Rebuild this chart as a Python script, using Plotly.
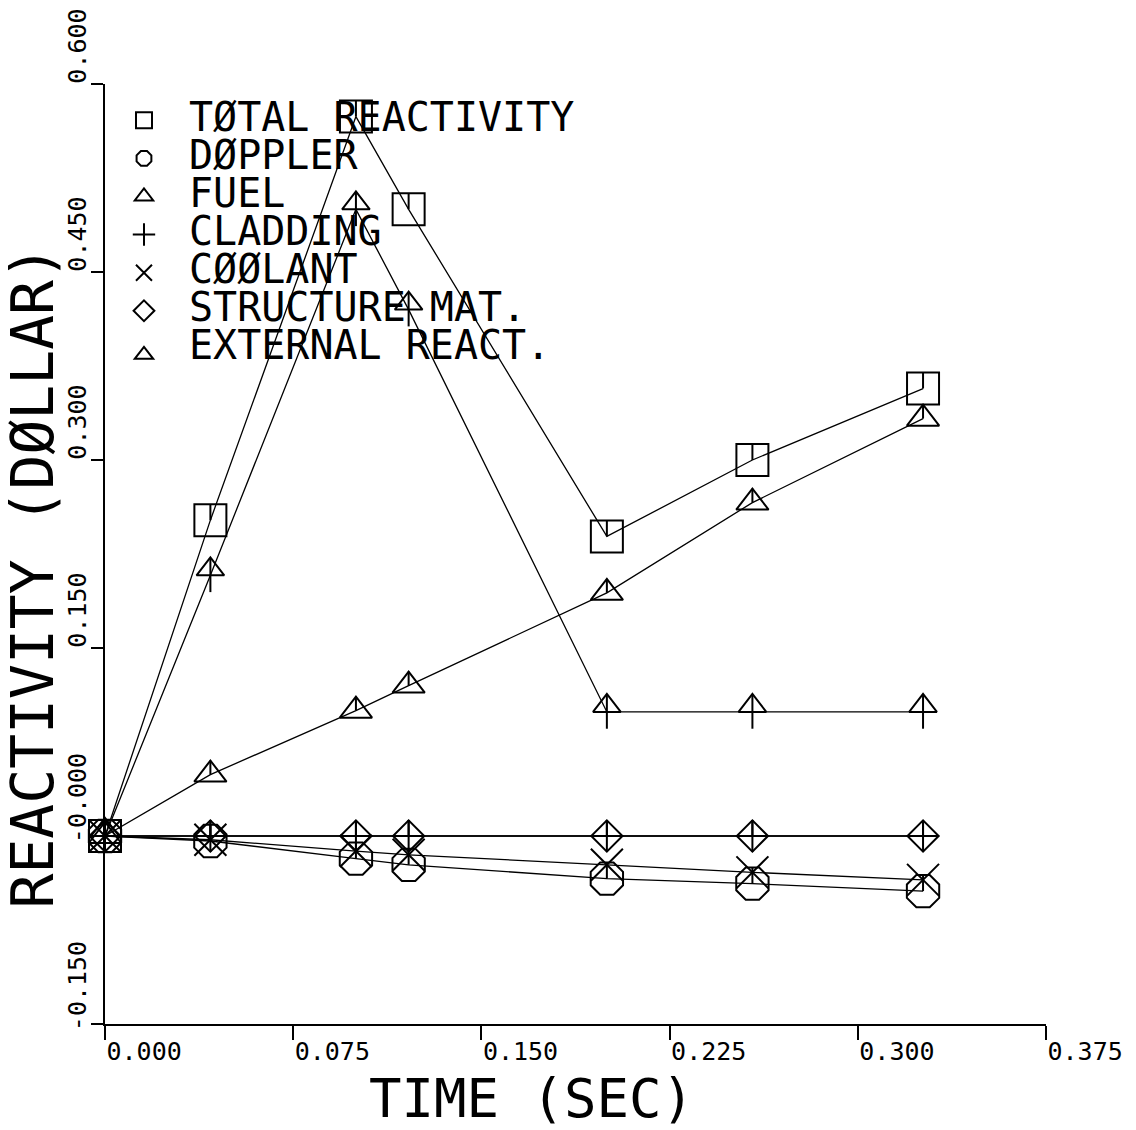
import plotly.graph_objects as go

# Reactivity contributions (dollars) versus time (seconds)
time_s = [0.0, 0.042, 0.100, 0.121, 0.200, 0.258, 0.326]
total_reactivity = [0.0, 0.252, 0.574, 0.500, 0.239, 0.300, 0.357]
doppler = [0.0, -0.004, -0.018, -0.023, -0.034, -0.038, -0.044]
fuel = [0.0, 0.049, 0.100, 0.120, 0.194, 0.266, 0.333]
cladding = [0.0, 0.0, 0.0, 0.0, 0.0, 0.0, 0.0]
coolant = [0.0, -0.003, -0.012, -0.015, -0.023, -0.029, -0.035]
structure_mat = [0.0, 0.0, 0.0, 0.0, 0.0, 0.0, 0.0]
external_react = [0.0, 0.208, 0.500, 0.420, 0.099, 0.099, 0.099]

series_names = ["TØTAL REACTIVITY", "DØPPLER", "FUEL", "CLADDING",
                "CØØLANT", "STRUCTURE MAT.", "EXTERNAL REACT."]

x_tickvals = [0.0, 0.075, 0.150, 0.225, 0.300, 0.375]
x_ticktext = ["0.000", "0.075", "0.150", "0.225", "0.300", "0.375"]
y_tickvals = [-0.150, 0.0, 0.150, 0.300, 0.450, 0.600]
y_ticktext = ["-0.150", "-0.000", "0.150", "0.300", "0.450", "0.600"]

FONT = "DejaVu Sans Mono"
INK = "black"

# marker style per series
styles = [
    dict(symbol="square-open", size=32),
    dict(symbol="octagon-open", size=35),
    dict(symbol="triangle-up-open", size=28),
    dict(symbol="cross-thin-open", size=23),
    dict(symbol="x-thin-open", size=32),
    dict(symbol="diamond-open", size=24),
    dict(symbol="triangle-down-open", size=24, angle=180, standoff=6),
]
values = [total_reactivity, doppler, fuel, cladding, coolant,
          structure_mat, external_react]

# short pen stroke from the top of a symbol down to its centre
# (series index, stroke size, upward offset)
centre_strokes = [(0, 11.4, 8), (1, 11.4, 8), (2, 10, 7), (5, 11.4, 8)]

fig = go.Figure()

# connecting lines
for vals in values:
    fig.add_trace(go.Scatter(
        x=time_s, y=vals, mode="lines", showlegend=False,
        line=dict(color=INK, width=1.3), hoverinfo="skip", cliponaxis=False))

# plotting symbols
for name, vals, st in zip(series_names, values, styles):
    fig.add_trace(go.Scatter(
        x=time_s, y=vals, mode="markers",
        name=f'<span style="font-size:40px">{name}</span>',
        marker=dict(color=INK, line=dict(color=INK, width=2), **st),
        cliponaxis=False))

for idx, size, lift in centre_strokes:
    fig.add_trace(go.Scatter(
        x=time_s, y=values[idx], mode="markers", showlegend=False,
        hoverinfo="skip", cliponaxis=False,
        marker=dict(symbol="line-ns-open", size=size, angle=180, standoff=lift,
                    color=INK, line=dict(color=INK, width=2))))

# shaft of the external-reactivity arrow symbol
fig.add_trace(go.Scatter(
    x=time_s, y=external_react, mode="markers", showlegend=False,
    hoverinfo="skip", cliponaxis=False,
    marker=dict(symbol="line-ns-open", size=24, color=INK,
                line=dict(color=INK, width=2))))

fig.update_layout(
    width=1136, height=1130,
    margin=dict(l=105, r=90, t=84, b=106, autoexpand=False),
    paper_bgcolor="white", plot_bgcolor="white",
    font=dict(family=FONT, color=INK, size=25),
    legend=dict(
        x=-0.0064, y=0.987, xanchor="left", yanchor="top",
        bgcolor="rgba(0,0,0,0)", borderwidth=0,
        font=dict(family=FONT, size=27, color=INK),
        itemwidth=80, tracegroupgap=0,
    ),
    xaxis=dict(
        range=[0, 0.375], tickvals=x_tickvals, ticktext=x_ticktext,
        showline=True, linecolor=INK, linewidth=1.5, automargin=False,
        ticks="outside", ticklen=14, tickwidth=1.5, tickcolor=INK,
        showgrid=False, zeroline=False,
        ticklabelposition="outside right", ticklabelstandoff=4,
        tickfont=dict(family=FONT, size=25, color=INK),
    ),
    yaxis=dict(
        range=[-0.150, 0.600], tickvals=y_tickvals, ticktext=y_ticktext,
        showline=True, linecolor=INK, linewidth=1.5, automargin=False,
        ticks="outside", ticklen=12, tickwidth=1.5, tickcolor=INK,
        showgrid=False, zeroline=False,
        tickangle=-90, ticklabelposition="outside top",
        ticklabelshift=-16, ticklabelstandoff=7,
        tickfont=dict(family=FONT, size=25, color=INK),
    ),
    annotations=[
        dict(text="TIME (SEC)", xref="paper", yref="paper",
             x=0.453, y=-0.079, xanchor="center", yanchor="middle",
             showarrow=False, font=dict(family=FONT, size=54, color=INK)),
        dict(text="REACTIVITY (DØLLAR)", xref="paper", yref="paper",
             x=-0.076, y=0.4755, xanchor="center", yanchor="middle",
             textangle=-90, showarrow=False,
             font=dict(family=FONT, size=58, color=INK)),
    ],
)

fig.write_html("out.html", config={"displayModeBar": False})
